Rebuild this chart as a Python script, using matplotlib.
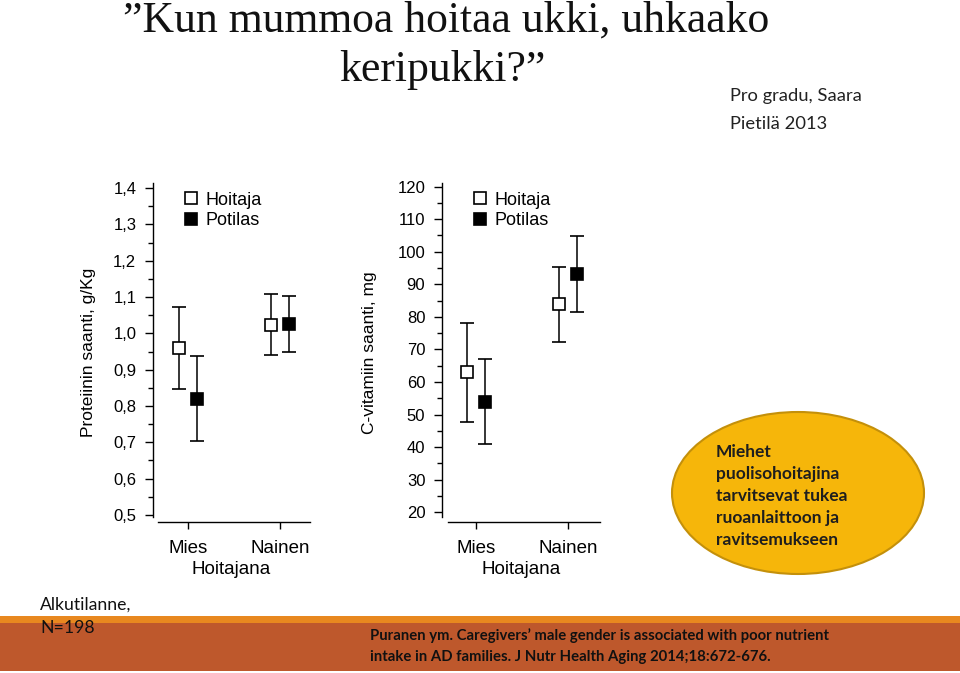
import matplotlib
matplotlib.use("Agg")
import matplotlib.pyplot as plt
from matplotlib.patches import Ellipse, Rectangle
from matplotlib.lines import Line2D
from matplotlib.ticker import MultipleLocator, FuncFormatter

plt.rcParams["font.family"] = ["Liberation Sans", "DejaVu Sans"]

# data
groups = ["Mies", "Nainen"]
series = ["Hoitaja", "Potilas"]
protein_mean = {"Hoitaja": [0.96, 1.023], "Potilas": [0.82, 1.025]}
protein_err = {"Hoitaja": [0.113, 0.084], "Potilas": [0.117, 0.077]}
vitc_mean = {"Hoitaja": [63.0, 83.8], "Potilas": [54.0, 93.1]}
vitc_err = {"Hoitaja": [15.2, 11.4], "Potilas": [13.0, 11.6]}

W, H = 960, 673
fig = plt.figure(figsize=(9.6, 6.73), dpi=100)


def px_axes(x0, y0, x1, y1, **kw):
    # pixel box (top-left origin) -> figure axes
    return fig.add_axes([x0 / W, 1 - y1 / H, (x1 - x0) / W, (y1 - y0) / H], **kw)


# background decorations
bg = px_axes(0, 0, W, H, zorder=0)
bg.set_xlim(0, W)
bg.set_ylim(H, 0)
bg.axis("off")
bg.add_patch(Rectangle((0, 616), W, 55, facecolor="#BE582C", edgecolor="none"))
bg.add_patch(Rectangle((0, 616), W, 7, facecolor="#E8881F", edgecolor="none"))
bg.add_patch(Ellipse((798, 493), 252, 162, facecolor="#F6B60A", edgecolor="#C4900A", lw=1.5))

serif = ["Liberation Serif", "DejaVu Serif"]
sans_c = ["Lato", "DejaVu Sans"]
bg.text(446, 21, "\u201dKun mummoa hoitaa ukki, uhkaako", fontsize=31.5, family=serif,
        ha="center", va="center", color="#111111")
bg.text(442, 70, "keripukki?\u201d", fontsize=31.5, family=serif,
        ha="center", va="center", color="#111111")
bg.text(730, 96, "Pro gradu, Saara", fontsize=13.2, family=sans_c, va="center", color="#222222")
bg.text(730, 124, "Pietilä 2013", fontsize=13.2, family=sans_c, va="center", color="#222222")
bg.text(40, 605, "Alkutilanne,", fontsize=12.7, family=sans_c, va="center", color="#111111")
bg.text(40, 628, "N=198", fontsize=12.7, family=sans_c, va="center", color="#111111")
bg.text(370, 636, "Puranen ym. Caregivers\u2019 male gender is associated with poor nutrient",
        fontsize=10.7, family=sans_c, weight="bold", va="center", color="#111111")
bg.text(370, 657, "intake in AD families. J Nutr Health Aging 2014;18:672-676.",
        fontsize=10.7, family=sans_c, weight="bold", va="center", color="#111111")
ell_lines = ["Miehet", "puolisohoitajina", "tarvitsevat tukea", "ruoanlaittoon ja", "ravitsemukseen"]
for i, t in enumerate(ell_lines):
    bg.text(716, 452 + i * 22, t, fontsize=12.5, family=sans_c, weight="bold",
            va="center", color="#1e1e1e")


def panel(box, ylim, ybounds, xlim, xbounds, major, minor, fmt, means, errs, ylabel, ylab_x):
    ax = px_axes(*box, zorder=2)
    ax.patch.set_alpha(0)
    ax.set_xlim(*xlim)
    ax.set_ylim(*ylim)
    for s in ["top", "right"]:
        ax.spines[s].set_visible(False)
    ax.spines["left"].set_bounds(*ybounds)
    ax.spines["bottom"].set_bounds(*xbounds)
    ax.yaxis.set_major_locator(MultipleLocator(major))
    ax.yaxis.set_minor_locator(MultipleLocator(minor))
    ax.yaxis.set_major_formatter(FuncFormatter(fmt))
    ax.tick_params(axis="y", which="major", length=6, width=1, labelsize=12, pad=6)
    ax.tick_params(axis="y", which="minor", length=3.5, width=1)
    ax.tick_params(axis="x", length=5, width=1, labelsize=13.5, pad=8)
    ax.set_xticks(range(len(groups)))
    ax.set_xticklabels(groups)
    ax.set_xlabel("Hoitajana", fontsize=13.5, labelpad=3)
    ax.set_ylabel(ylabel, fontsize=12.5)
    ax.yaxis.set_label_coords(ylab_x, 0.5)
    off = 0.1
    handles = []
    for k, name in enumerate(series):
        xs = [i + (k * 2 - 1) * off for i in range(len(groups))]
        fc = "white" if name == "Hoitaja" else "black"
        ax.errorbar(xs, means[name], yerr=errs[name], fmt="s", ms=8, mfc=fc, mec="black",
                    mew=1.2, ecolor="black", elinewidth=1.1, capsize=5, capthick=1.1,
                    zorder=3)
        handles.append(Line2D([], [], ls="none", marker="s", ms=8, mfc=fc, mec="black",
                              mew=1.2, label=name))
    ax.legend(handles=handles, loc="upper left", bbox_to_anchor=(0.115, 1.012), frameon=False,
              fontsize=13, handlelength=0.8, handletextpad=0.4, labelspacing=0.2,
              borderpad=0.2)
    for sp in ax.spines.values():
        sp.set_linewidth(1)
    return ax


# left: protein
panel((153, 183, 310, 522), (0.4807, 1.4138), (0.494, 1.4138), (-0.380, 1.326), (-0.326, 1.326),
      0.1, 0.05, lambda v, p: f"{v:.1f}".replace(".", ","),
      protein_mean, protein_err, "Proteiinin saanti, g/Kg", -0.36)

# right: vitamin C
panel((442, 183, 600, 522), (17.0, 121.1), (18.5, 121.1), (-0.370, 1.348), (-0.304, 1.348),
      10, 5, lambda v, p: f"{v:.0f}",
      vitc_mean, vitc_err, "C-vitamiin saanti, mg", -0.41)

fig.savefig("out.png", dpi=100)
